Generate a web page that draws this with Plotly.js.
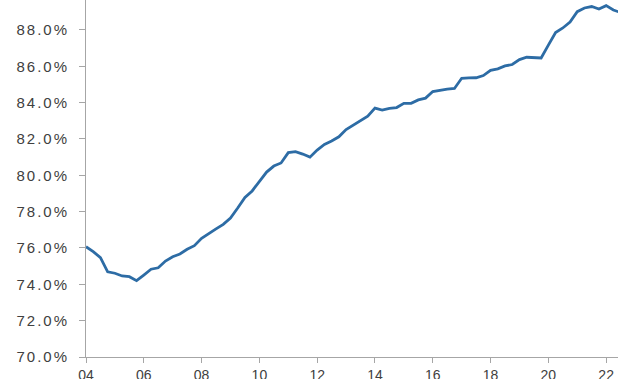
<!DOCTYPE html>
<html>
<head>
<meta charset="utf-8">
<script src="https://cdn.plot.ly/plotly-3.0.1.min.js"></script>
<style>
  html, body { margin: 0; padding: 0; background: #ffffff; }
  #chart { width: 618px; height: 379px; }
  /* wider tracking on the percentage labels */
  #chart .ytick text { letter-spacing: 2px; }
</style>
</head>
<body>
<div id="chart"></div>
<script>
// Quarterly series, 2004 Q1 onward (percent)
const startYear = 2004;
const shareValues = [
  76.07, 75.80, 75.47, 74.69,
  74.61, 74.46, 74.42, 74.20,
  74.51, 74.83, 74.91, 75.28,
  75.52, 75.67, 75.93, 76.13,
  76.53, 76.81, 77.05, 77.30,
  77.65, 78.20, 78.78, 79.14,
  79.69, 80.18, 80.51, 80.68,
  81.25, 81.30, 81.17, 81.00,
  81.39, 81.70, 81.89, 82.12,
  82.52, 82.77, 83.02, 83.26,
  83.70, 83.59, 83.69, 83.73,
  83.96, 83.96, 84.15, 84.25,
  84.61, 84.69, 84.75, 84.78,
  85.34, 85.36, 85.37, 85.49,
  85.78, 85.86, 86.02, 86.10,
  86.37, 86.50, 86.49, 86.46,
  87.17, 87.86, 88.11, 88.44,
  89.01, 89.21, 89.29, 89.15,
  89.34, 89.10, 88.96
];

// Axis ticks
const xTickYears = [2004, 2006, 2008, 2010, 2012, 2014, 2016, 2018, 2020, 2022];
const xTickLabels = ['04', '06', '08', '10', '12', '14', '16', '18', '20', '22'];
const yTickValues = [70, 72, 74, 76, 78, 80, 82, 84, 86, 88];
const yTickLabels = ['70.0%', '72.0%', '74.0%', '76.0%', '78.0%', '80.0%', '82.0%', '84.0%', '86.0%', '88.0%'];

// Position each quarter on a decimal-year axis
const quarterX = shareValues.map((_, i) => startYear + Math.floor(i / 4) + (i % 4) / 4);

const trace = {
  x: quarterX,
  y: shareValues,
  type: 'scatter',
  mode: 'lines',
  line: { color: '#2d6ca5', width: 2.8 },
  hoverinfo: 'skip'
};

const axisGray = '#a6a6a6';
const fontFamily = 'Liberation Sans, Arial, sans-serif';

const layout = {
  width: 618,
  height: 379,
  margin: { l: 86, r: 0, t: 0, b: 22 },
  paper_bgcolor: '#ffffff',
  plot_bgcolor: '#ffffff',
  showlegend: false,
  xaxis: {
    range: [2004, 2022.41],
    tickmode: 'array',
    tickvals: xTickYears,
    ticktext: xTickLabels,
    ticks: 'outside',
    ticklen: 5,
    tickwidth: 1,
    tickcolor: axisGray,
    ticklabelstandoff: 0,
    showline: true,
    linecolor: axisGray,
    linewidth: 1,
    showgrid: false,
    zeroline: false,
    tickfont: { family: fontFamily, size: 14, color: '#404040' }
  },
  yaxis: {
    range: [70, 89.65],
    tickmode: 'array',
    tickvals: yTickValues,
    ticktext: yTickLabels,
    ticks: 'outside',
    ticklen: 6,
    tickwidth: 1,
    tickcolor: axisGray,
    ticklabelstandoff: 7,
    showline: true,
    linecolor: axisGray,
    linewidth: 1,
    showgrid: false,
    zeroline: false,
    tickfont: { family: fontFamily, size: 15, color: '#404040' }
  }
};

Plotly.newPlot('chart', [trace], layout, { displayModeBar: false, staticPlot: true });
</script>
</body>
</html>
